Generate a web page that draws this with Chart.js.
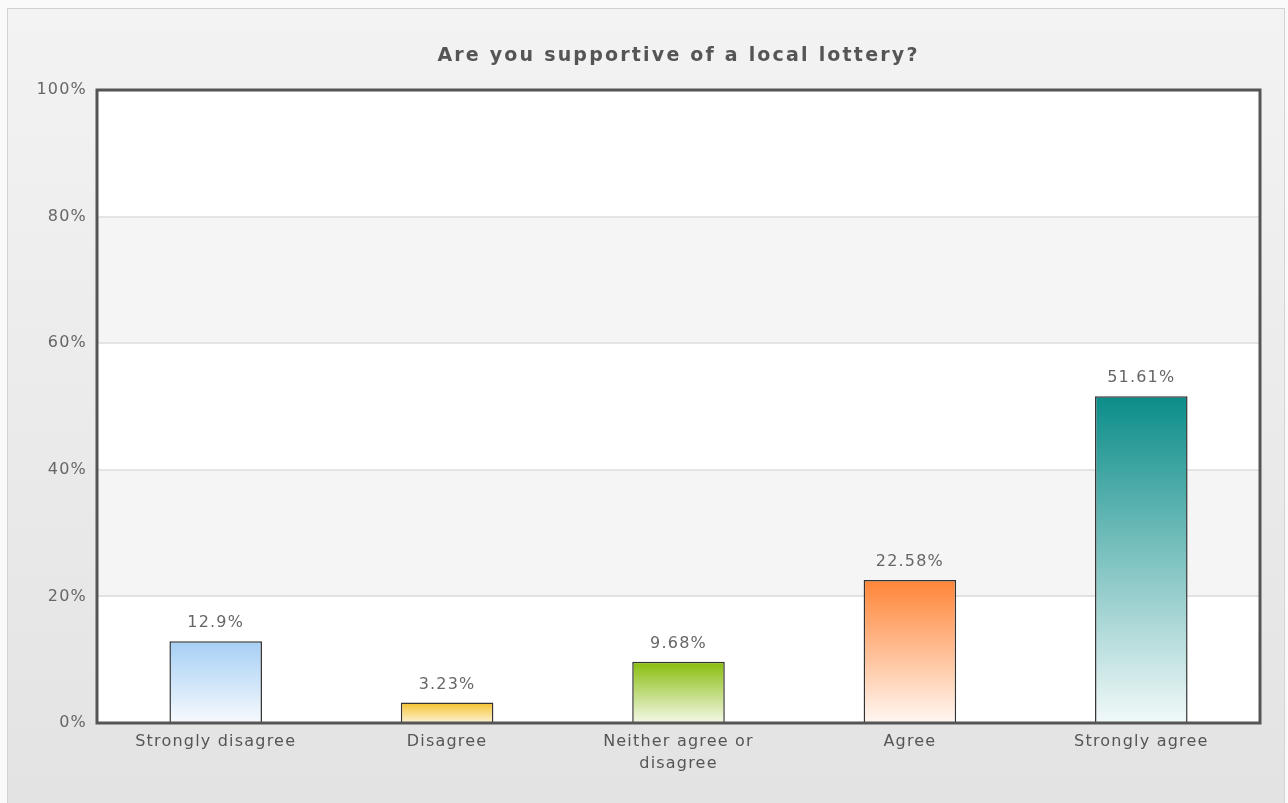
<!DOCTYPE html>
<html>
<head>
<meta charset="utf-8">
<title>Local lottery survey</title>
<script src="https://cdn.jsdelivr.net/npm/chart.js@4/dist/chart.umd.min.js"></script>
<style>
  html, body { margin: 0; padding: 0; background: #fafafa; }
  #wrap { width: 1288px; height: 803px; position: relative; }
</style>
</head>
<body>
<div id="wrap"><canvas id="surveyChart"></canvas></div>
<script>
// Survey results
const answers = ['Strongly disagree', 'Disagree', ['Neither agree or', 'disagree'], 'Agree', 'Strongly agree'];
const percents = [12.9, 3.23, 9.68, 22.58, 51.61];
const percentLabels = ['12.9%', '3.23%', '9.68%', '22.58%', '51.61%'];
const yTicks = [0, 20, 40, 60, 80, 100];

// top / bottom colour of each bar's gradient
const topColors = ['#a6cff5', '#f4c12c', '#88bd0c', '#ff8537', '#0b8d89'];
const bottomColors = ['#f7fafd', '#fdf3d6', '#f4f8e8', '#fff7f2', '#f2f9f9'];

const FONT = '"DejaVu Sans", Verdana, sans-serif';
const SPACING = '1.2px';
const FRAME_GAP = 3; // frame sits a little outside the plotted area

// panel background, banded plot area and the dark frame
const panelPlugin = {
    id: 'panel',
    beforeLayout(chart) {
        chart.ctx.letterSpacing = SPACING;
    },
    beforeDraw(chart) {
        const { ctx, width, height, chartArea: a, scales: { y } } = chart;
        ctx.letterSpacing = SPACING;
        ctx.save();
        ctx.fillStyle = '#fafafa';
        ctx.fillRect(0, 0, width, height);
        const g = ctx.createLinearGradient(0, 8, 0, height);
        g.addColorStop(0, '#f3f3f3');
        g.addColorStop(1, '#e3e3e3');
        ctx.fillStyle = g;
        ctx.fillRect(7, 8, 1278, height - 8);
        ctx.strokeStyle = '#d2d2d2';
        ctx.lineWidth = 1;
        ctx.strokeRect(7.5, 8.5, 1277, height);

        // alternating bands, every other 20% step
        const left = a.left - FRAME_GAP;
        const w = a.right - a.left + FRAME_GAP * 2;
        for (let i = 0; i < yTicks.length - 1; i++) {
            const y0 = y.getPixelForValue(yTicks[i]);
            const y1 = y.getPixelForValue(yTicks[i + 1]);
            ctx.fillStyle = i % 2 === 0 ? '#ffffff' : '#f5f5f5';
            ctx.fillRect(left, y1, w, y0 - y1);
            if (i > 0) {
                ctx.fillStyle = '#cfcfcf';
                ctx.fillRect(left, Math.round(y0) - 0.5, w, 1);
            }
        }
        ctx.restore();
    },
    afterDatasetsDraw(chart) {
        const { ctx, chartArea: a } = chart;
        ctx.save();
        ctx.strokeStyle = '#555555';
        ctx.lineWidth = 3;
        ctx.strokeRect(a.left - FRAME_GAP, a.top, a.right - a.left + FRAME_GAP * 2, a.bottom - a.top);
        ctx.restore();
    },
    afterDraw(chart) {
        const { ctx, chartArea: a } = chart;
        ctx.save();
        ctx.letterSpacing = '2.2px';
        ctx.font = 'bold 19px ' + FONT;
        ctx.fillStyle = '#555555';
        ctx.textAlign = 'center';
        ctx.textBaseline = 'middle';
        ctx.fillText('Are you supportive of a local lottery?', (a.left + a.right) / 2, 56);
        ctx.restore();
    }
};

// value text above each bar
const valueLabels = {
    id: 'valueLabels',
    afterDatasetsDraw(chart) {
        const { ctx } = chart;
        const meta = chart.getDatasetMeta(0);
        ctx.save();
        ctx.font = '16px ' + FONT;
        ctx.fillStyle = '#666666';
        ctx.textAlign = 'center';
        ctx.textBaseline = 'bottom';
        meta.data.forEach((bar, i) => {
            ctx.fillText(percentLabels[i], bar.x, bar.y - 10);
        });
        ctx.restore();
    }
};

function barGradient(context) {
    const chart = context.chart;
    const { ctx, chartArea, scales } = chart;
    const i = context.dataIndex;
    if (!chartArea || !scales.y) return topColors[i];
    const yTop = scales.y.getPixelForValue(percents[i]);
    const yBase = scales.y.getPixelForValue(0);
    const g = ctx.createLinearGradient(0, yTop, 0, yBase);
    g.addColorStop(0, topColors[i]);
    g.addColorStop(1, bottomColors[i]);
    return g;
}

const ctx = document.getElementById('surveyChart').getContext('2d');
const surveyChart = new Chart(ctx, {
    type: 'bar',
    data: {
        labels: answers,
        datasets: [{
            data: percents,
            backgroundColor: barGradient,
            borderColor: '#333333',
            borderWidth: 1.5,
            borderSkipped: 'bottom',
            categoryPercentage: 1,
            barPercentage: 0.4
        }]
    },
    options: {
        responsive: true,
        maintainAspectRatio: false,
        animation: false,
        layout: { padding: { left: 11, top: 90, right: 31, bottom: 0 } },
        plugins: {
            legend: { display: false },
            title: { display: false },
            tooltip: { enabled: false }
        },
        scales: {
            x: {
                grid: { display: false, drawTicks: false },
                border: { display: false },
                ticks: {
                    color: '#555555',
                    font: { family: FONT, size: 16, lineHeight: 1.375 },
                    padding: 8,
                    maxRotation: 0,
                    autoSkip: false
                },
                afterFit(scale) { scale.height = 80; }
            },
            y: {
                min: 0,
                max: 100,
                afterBuildTicks(scale) { scale.ticks = yTicks.map(v => ({ value: v })); },
                grid: { display: false, drawTicks: false },
                border: { display: false },
                ticks: {
                    color: '#666666',
                    font: { family: FONT, size: 16 },
                    padding: 13,
                    callback: v => v + '%'
                },
                afterFit(scale) { scale.width = 89; }
            }
        }
    },
    plugins: [panelPlugin, valueLabels]
});
</script>
</body>
</html>
